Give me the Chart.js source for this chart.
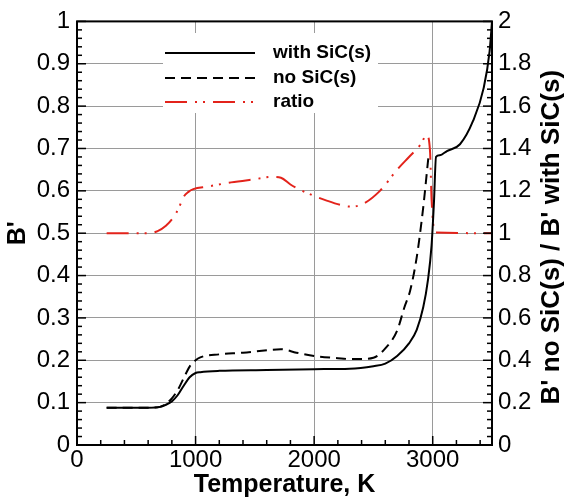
<!DOCTYPE html>
<html>
<head>
<meta charset="utf-8">
<script src="https://cdn.jsdelivr.net/npm/chart.js@4.4.1/dist/chart.umd.min.js"></script>
<style>
    html, body { margin: 0; padding: 0; background: #fff; }
</style>
</head>
<body>
<canvas id="chart_bprime" width="576" height="500"></canvas>
<script>
const canvasBprime = document.getElementById('chart_bprime');

/* DATA */
// with SiC(s), solid line (left axis)
const T_WITH = [250, 600, 700, 750, 800, 850, 900, 950, 1000, 1040, 1200, 1600, 2000, 2300, 2500, 2600, 2700, 2800, 2865, 2920, 2960, 2990, 3010, 3028, 3060, 3120, 3230, 3340, 3430, 3480, 3500];
const B_WITH = [0.088, 0.088, 0.09, 0.095, 0.103, 0.118, 0.14, 0.16, 0.17, 0.172, 0.175, 0.177, 0.179, 0.18, 0.186, 0.192, 0.21, 0.24, 0.272, 0.325, 0.39, 0.47, 0.57, 0.68, 0.684, 0.694, 0.71, 0.765, 0.843, 0.93, 1.0];

// no SiC(s), dashed line (left axis)
const T_NO = [250, 600, 700, 750, 800, 850, 900, 950, 1000, 1040, 1200, 1400, 1650, 1720, 1850, 2000, 2200, 2300, 2390, 2500, 2600, 2700, 2760, 2810, 2865, 2920, 2963];
const B_NO = [0.088, 0.088, 0.09, 0.097, 0.11, 0.13, 0.158, 0.185, 0.2, 0.207, 0.214, 0.218, 0.225, 0.226, 0.218, 0.21, 0.205, 0.203, 0.203, 0.206, 0.228, 0.27, 0.324, 0.365, 0.443, 0.561, 0.678];

// ratio B' no SiC / B' with SiC, dash-dot-dot red (right axis)
const T_RATIO = [250, 600, 680, 750, 812, 860, 897, 940, 981, 1100, 1300, 1500, 1650, 1720, 1800, 1900, 2000, 2100, 2218, 2300, 2400, 2555, 2700, 2800, 2900, 2949, 2977, 2991, 3019, 3500];
const RATIO = [1.0, 1.0, 1.01, 1.035, 1.074, 1.12, 1.17, 1.195, 1.208, 1.22, 1.24, 1.255, 1.266, 1.262, 1.23, 1.2, 1.176, 1.155, 1.134, 1.126, 1.135, 1.2, 1.3, 1.36, 1.42, 1.464, 1.39, 1.153, 1.004, 1.0];

const SERIES_LABELS = ['with SiC(s)', 'no SiC(s)', 'ratio'];
const X_TICKS = [0, 1000, 2000, 3000];

const toPoints = (xs, ys) => xs.map((x, i) => ({ x: x, y: ys[i] }));
const plainNumber = (v) => String(+Number(v).toFixed(2));

const FONT = 'Liberation Sans, Arial, Helvetica, sans-serif';
Chart.defaults.font.family = FONT;
Chart.defaults.color = '#000';

/* PLUGIN: frame, inward ticks, legend box, right title */
const LEGEND = { x: 163, y: 33, w: 215, h: 80, lineX0: 165, lineX1: 255, textX: 273, rows: [53, 78, 102] };

// inward tick marks, one major every `step` and (minorDiv - 1) minors between
function drawTicks(ctx, scale, area, side, step, minorDiv, majorLen, minorLen) {
    const minorStep = step / minorDiv;
    const n = Math.floor((scale.max - scale.min) / minorStep + 1e-6);
    for (let i = 0; i <= n; i++) {
        const p = scale.getPixelForValue(scale.min + i * minorStep);
        const len = (i % minorDiv === 0) ? majorLen : minorLen;
        ctx.beginPath();
        if (side === 'bottom') { ctx.moveTo(p, area.bottom); ctx.lineTo(p, area.bottom - len); }
        if (side === 'left') { ctx.moveTo(area.left, p); ctx.lineTo(area.left + len, p); }
        if (side === 'right') { ctx.moveTo(area.right, p); ctx.lineTo(area.right - len, p); }
        ctx.stroke();
    }
}

const framePlugin = {
    id: 'framePlugin',
    beforeDatasetsDraw(chart) {
        const ctx = chart.ctx;
        ctx.save();
        ctx.fillStyle = '#fff';
        ctx.fillRect(LEGEND.x, LEGEND.y, LEGEND.w, LEGEND.h);
        ctx.restore();
    },
    afterDraw(chart) {
        const { ctx, chartArea: a, scales } = chart;
        ctx.save();
        ctx.strokeStyle = '#000';
        ctx.lineWidth = 1.5;
        drawTicks(ctx, scales.x, a, 'bottom', 1000, 5, 9, 5);
        drawTicks(ctx, scales.y, a, 'left', 0.1, 5, 9, 5);
        drawTicks(ctx, scales.y2, a, 'right', 0.2, 5, 9, 5);

        ctx.lineWidth = 2;
        ctx.strokeRect(a.left, a.top, a.right - a.left, a.bottom - a.top);

        // legend
        chart.data.datasets.forEach((ds, i) => {
            const y = LEGEND.rows[i];
            ctx.beginPath();
            ctx.strokeStyle = ds.borderColor;
            ctx.lineWidth = ds.borderWidth;
            ctx.setLineDash(ds.borderDash || []);
            ctx.moveTo(LEGEND.lineX0, y);
            ctx.lineTo(LEGEND.lineX1, y);
            ctx.stroke();
            ctx.setLineDash([]);
            ctx.fillStyle = '#000';
            ctx.font = 'bold 19px ' + FONT;
            ctx.textAlign = 'left';
            ctx.textBaseline = 'middle';
            ctx.fillText(ds.label, LEGEND.textX, y);
        });

        // right axis title, reading bottom to top
        ctx.translate(552, (a.top + a.bottom) / 2 + 4);
        ctx.rotate(-Math.PI / 2);
        ctx.font = 'bold 26px ' + FONT;
        ctx.textAlign = 'center';
        ctx.textBaseline = 'middle';
        ctx.fillStyle = '#000';
        ctx.fillText("B' no SiC(s) / B' with SiC(s)", 0, 0);
        ctx.restore();
    }
};

/* CHART */
const GRID_COLOR = '#9a9a9a';

var chartBprime = new Chart(canvasBprime, {
    type: 'line',
    data: {
        datasets: [
            {
                label: SERIES_LABELS[0],
                data: toPoints(T_WITH, B_WITH),
                yAxisID: 'y',
                borderColor: '#000',
                borderWidth: 2,
                cubicInterpolationMode: 'monotone',
                pointRadius: 0
            },
            {
                label: SERIES_LABELS[1],
                data: toPoints(T_NO, B_NO),
                yAxisID: 'y',
                borderColor: '#000',
                borderWidth: 2,
                borderDash: [10, 6],
                cubicInterpolationMode: 'monotone',
                pointRadius: 0
            },
            {
                label: SERIES_LABELS[2],
                data: toPoints(T_RATIO, RATIO),
                yAxisID: 'y2',
                borderColor: '#e3231b',
                borderWidth: 2,
                borderDash: [22, 8, 2, 6, 2, 8],
                cubicInterpolationMode: 'monotone',
                pointRadius: 0
            }
        ]
    },
    options: {
        responsive: false,
        animation: false,
        layout: { padding: { top: 20, left: 0, right: 0, bottom: 0 } },
        plugins: {
            legend: { display: false },
            tooltip: { enabled: false }
        },
        scales: {
            x: {
                type: 'linear',
                position: 'bottom',
                min: 0,
                max: 3500,
                afterFit: (s) => { s.height = 55; },
                afterBuildTicks: (s) => { s.ticks = X_TICKS.map((v) => ({ value: v })); },
                ticks: { font: { size: 24 }, padding: 1, maxRotation: 0, autoSkip: false, callback: plainNumber },
                grid: { color: GRID_COLOR, lineWidth: 1, drawTicks: false },
                border: { display: false },
                title: { display: true, text: 'Temperature, K', font: { size: 25, weight: 'bold' }, padding: { top: 0, bottom: 0 } }
            },
            y: {
                type: 'linear',
                position: 'left',
                min: 0,
                max: 1,
                afterFit: (s) => { s.width = 77; },
                ticks: { stepSize: 0.1, font: { size: 24 }, padding: 7, callback: plainNumber },
                grid: { color: GRID_COLOR, lineWidth: 1, drawTicks: false },
                border: { display: false },
                title: { display: true, text: "B'", font: { size: 25, weight: 'bold' }, padding: { top: 3, bottom: 0 } }
            },
            y2: {
                type: 'linear',
                position: 'right',
                min: 0,
                max: 2,
                afterFit: (s) => { s.width = 84; },
                ticks: { stepSize: 0.2, font: { size: 24 }, padding: 6, callback: plainNumber },
                grid: { drawOnChartArea: false, drawTicks: false },
                border: { display: false }
            }
        }
    },
    plugins: [framePlugin]
});
</script>
</body>
</html>
